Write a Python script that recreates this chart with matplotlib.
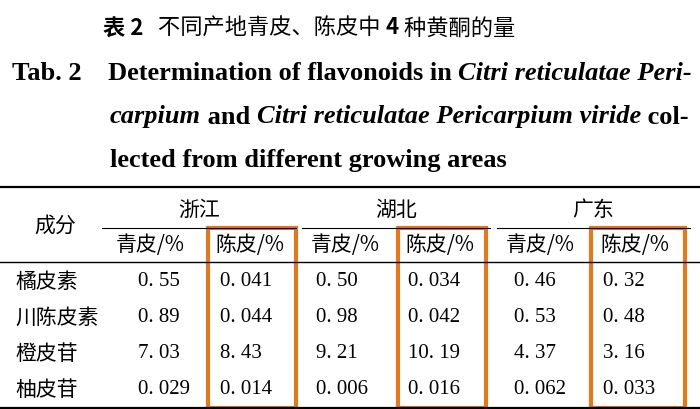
import matplotlib.pyplot as plt
from matplotlib.patches import Rectangle

regions = ["浙江", "湖北", "广东"]
sub_cols = ["青皮/%", "陈皮/%"]
components = ["橘皮素", "川陈皮素", "橙皮苷", "柚皮苷"]
values = [
    ["0.55", "0.041", "0.50", "0.034", "0.46", "0.32"],
    ["0.89", "0.044", "0.98", "0.042", "0.53", "0.48"],
    ["7.03", "8.43", "9.21", "10.19", "4.37", "3.16"],
    ["0.029", "0.014", "0.006", "0.016", "0.062", "0.033"],
]

CJK = ["Noto Sans CJK SC", "DejaVu Sans"]
SERIF = "Liberation Serif"
ORANGE = "#e07a1f"

fig = plt.figure(figsize=(7, 4.09), dpi=100)
ax = fig.add_axes([0, 0, 1, 1])
ax.set_xlim(0, 700)
ax.set_ylim(409, 0)
ax.axis("off")
renderer = fig.canvas.get_renderer()


def runs(x, y, parts, size=19, family=SERIF):
    for txt, style, weight in parts:
        t = ax.text(x, y, txt, fontsize=size, family=family, weight=weight,
                    style=style, va="center", ha="left")
        x += t.get_window_extent(renderer).width


runs(103, 28, [("表 2", "normal", "bold"),
               ("   不同产地青皮、陈皮中 ", "normal", "normal"),
               ("4", "normal", "bold"),
               (" 种黄酮的量", "normal", "normal")], size=16, family=CJK)
runs(12, 73, [("Tab. 2    Determination of flavonoids in ", "normal", "bold"),
              ("Citri reticulatae Peri-", "italic", "bold")])
runs(110, 117, [("carpium", "italic", "bold"), (" and ", "normal", "bold"),
                ("Citri reticulatae Pericarpium viride", "italic", "bold"),
                (" col-", "normal", "bold")])
runs(110, 160, [("lected from different growing areas", "normal", "bold")])

# rules
ax.plot([0, 700], [187, 187], color="black", lw=1.6)
ax.plot([0, 700], [262, 262], color="black", lw=1.0)
ax.plot([0, 700], [408, 408], color="black", lw=1.6)

col_x = [150, 250, 345, 440, 540, 635]
num_x = [138, 220, 316, 408, 514, 603]
group_span = [(102, 296), (302, 490), (497, 690)]
ax.text(55, 226, "成分", fontsize=15, family=CJK, ha="center", va="center")
for i, reg in enumerate(regions):
    x0, x1 = group_span[i]
    ax.text((x0 + x1) / 2, 210, reg, fontsize=15, family=CJK,
            ha="center", va="center")
    ax.plot([x0, x1], [228, 228], color="black", lw=0.8)
    for j, s in enumerate(sub_cols):
        ax.text(col_x[2 * i + j], 245, s, fontsize=15, family=CJK,
                ha="center", va="center")

row_y = [282, 318, 354, 390]
for r, comp in enumerate(components):
    ax.text(15, row_y[r], comp, fontsize=15, family=CJK, ha="left",
            va="center")
    for c, v in enumerate(values[r]):
        ax.text(num_x[c], row_y[r], v.replace(".", ". "), fontsize=15,
                family=SERIF, ha="left", va="center")

for x0 in [208, 398, 591]:
    ax.add_patch(Rectangle((x0, 228), 88 if x0 != 591 else 94, 180,
                           fill=False, edgecolor=ORANGE, lw=3))

fig.savefig("out.png", dpi=100)
